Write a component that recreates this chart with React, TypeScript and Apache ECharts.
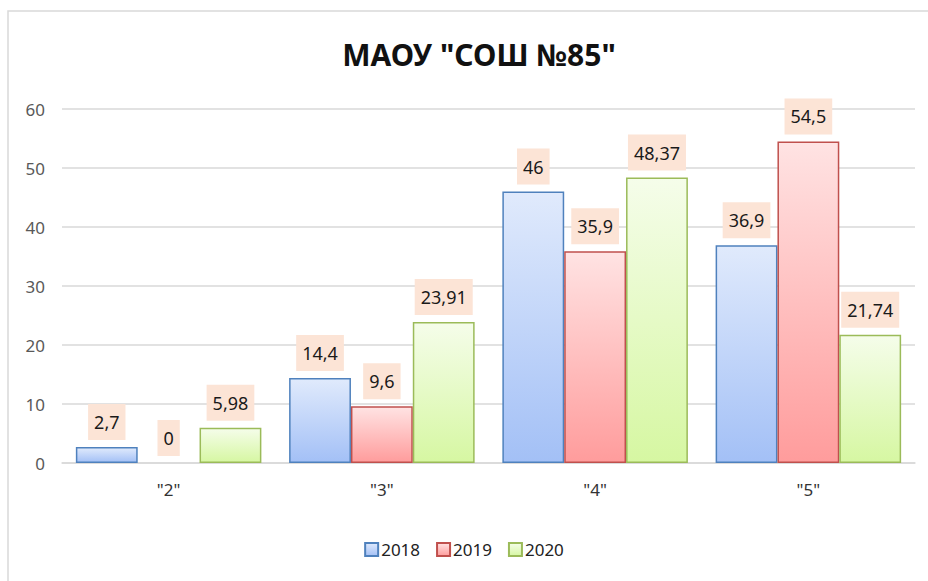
import React, { useEffect, useRef } from "react";
import * as echarts from "echarts";

const TITLE = 'МАОУ "СОШ №85"';
const categories = ['"2"', '"3"', '"4"', '"5"'];
const seriesNames = ["2018", "2019", "2020"];
const values2018 = [2.7, 14.4, 46, 36.9];
const values2019 = [0, 9.6, 35.9, 54.5];
const values2020 = [5.98, 23.91, 48.37, 21.74];
const yTicks = { min: 0, max: 60, interval: 10 };

const FONT = '"Noto Sans", sans-serif';

const grad = (top: string, bottom: string) =>
  new echarts.graphic.LinearGradient(0, 0, 0, 1, [
    { offset: 0, color: top },
    { offset: 1, color: bottom },
  ]);

const styles = [
  { top: "#e0eafc", bottom: "#a3c0f6", border: "#4f81bd" },
  { top: "#ffe3e3", bottom: "#ff9c9c", border: "#c0504d" },
  { top: "#f5fdea", bottom: "#d6f7a2", border: "#9bbb59" },
];

export default function App() {
  const ref = useRef<HTMLDivElement>(null);
  useEffect(() => {
    if (!ref.current) return;
    const chart = echarts.init(ref.current, null, { renderer: "svg" });
    const data = [values2018, values2019, values2020];
    chart.setOption({
      animation: false,
      backgroundColor: "#ffffff",
      graphic: [
        {
          type: "rect",
          shape: { x: 8, y: 11, width: 1000, height: 700 },
          style: { fill: "none", stroke: "#d9d9d9", lineWidth: 1.5 },
          silent: true,
          z: -10,
        },
      ],
      title: {
        text: TITLE,
        left: 474,
        top: 34,
        textAlign: "center",
        textStyle: {
          fontFamily: FONT,
          fontWeight: "bold",
          fontSize: 30,
          color: "#111111",
        },
      },
      legend: {
        data: seriesNames,
        left: "center",
        top: 536,
        itemWidth: 13,
        itemHeight: 13,
        itemGap: 16,
        icon: "rect",
        textStyle: { fontFamily: FONT, fontSize: 17, color: "#222222", padding: [0, 0, 0, -2] },
      },
      grid: { left: 62, right: 13, top: 109, bottom: 118, containLabel: false },
      xAxis: {
        type: "category",
        data: categories,
        axisLine: { lineStyle: { color: "#d9d9d9", width: 1.5 } },
        axisTick: { show: false },
        axisLabel: { fontFamily: FONT, fontSize: 17, color: "#333333", margin: 18 },
      },
      yAxis: {
        type: "value",
        min: yTicks.min,
        max: yTicks.max,
        interval: yTicks.interval,
        axisLine: { show: false },
        axisTick: { show: false },
        splitLine: { lineStyle: { color: "#d9d9d9", width: 1.5 } },
        axisLabel: { fontFamily: FONT, fontSize: 17, color: "#595959", margin: 17 },
      },
      series: seriesNames.map((name, i) => ({
        name,
        type: "bar",
        data: data[i].map((v) =>
          v === 0 ? { value: v, itemStyle: { borderWidth: 0 } } : v
        ),
        barGap: "0%",
        barCategoryGap: "13%",
        itemStyle: {
          color: grad(styles[i].top, styles[i].bottom),
          borderColor: styles[i].border,
          borderWidth: 1.5,
        },
        label: {
          show: true,
          position: "top",
          distance: 7,
          fontFamily: FONT,
          fontSize: 18,
          color: "#1a1a1a",
          backgroundColor: "#fce4d6",
          padding: [9, 6, 9, 6],
          formatter: (p: any) => String(p.value).replace(".", ","),
        },
      })),
    });
    return () => chart.dispose();
  }, []);
  return (
    <div
      ref={ref}
      style={{ position: "absolute", left: 0, top: 0, width: 928, height: 581 }}
    />
  );
}
